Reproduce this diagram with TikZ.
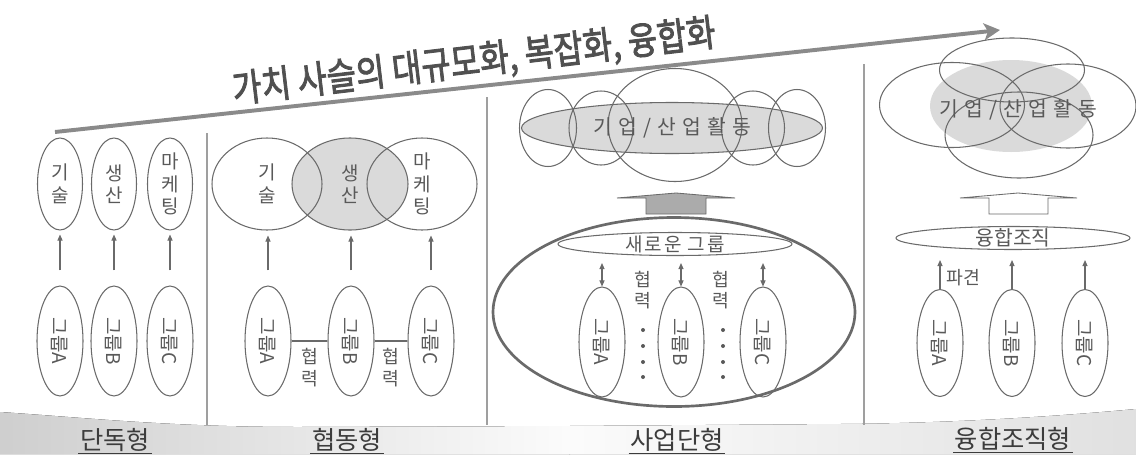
\documentclass[tikz,border=0pt]{standalone}
\usepackage{fontspec}
\usepackage{graphicx}
\setmainfont{Noto Sans CJK KR}[AutoFakeBold=2.5]
\usetikzlibrary{shapes.geometric,arrows.meta,positioning}

\newlength{\pxu}
\setlength{\pxu}{0.025cm}

\definecolor{linegray}{HTML}{6A6A6A}
\definecolor{textgray}{HTML}{595959}
\definecolor{labelgray}{HTML}{3C3C3C}
\definecolor{titlegray}{HTML}{505050}
\definecolor{fillgray}{HTML}{DADADA}
\definecolor{blockgray}{HTML}{ABABAB}
\definecolor{trendgray}{HTML}{8A8A8A}

% the four ovals of the fused activity
\newcommand{\fuseT}{(1012,70) ellipse [x radius=72.5, y radius=32]}
\newcommand{\fuseL}{(952,105) ellipse [x radius=72.5, y radius=42.5]}
\newcommand{\fuseR}{(1068,106) ellipse [x radius=68, y radius=42]}
\newcommand{\fuseB}{(1019,135) ellipse [x radius=74, y radius=43]}
% sideways group name
\newcommand{\grp}[1]{\rotatebox{-90}{\fontsize{13.5}{14}\selectfont 그룹#1}}

\begin{document}
\begin{tikzpicture}[
    x=0.025cm, y=-0.025cm,
    oval/.style={draw=linegray, line width=0.75pt, ellipse, inner sep=0pt, text=textgray, align=center, font=\fontsize{13.5}{16}\selectfont},
    field/.style={oval, minimum width=45\pxu, minimum height=92\pxu},
    wide/.style={oval, minimum width=110\pxu, minimum height=92\pxu},
    group/.style={oval, minimum width=46\pxu, minimum height=110\pxu},
    flat/.style={oval, minimum width=234\pxu, minimum height=23\pxu},
    ring/.style={draw=linegray, line width=0.75pt},
    up/.style={draw=linegray, line width=0.75pt, -{Triangle[length=4.3pt,width=3.6pt]}},
    both/.style={up, {Triangle[length=4.3pt,width=3.6pt]}-{Triangle[length=4.3pt,width=3.6pt]}},
    note/.style={text=textgray, inner sep=1pt, align=center, font=\fontsize{13}{15.5}\selectfont},
    spaced/.style={text=textgray, inner sep=0pt, font=\fontsize{14.5}{15}\selectfont\addfontfeature{LetterSpace=8}},
    kind/.style={text=labelgray, inner sep=1pt, font=\fontsize{18}{18}\selectfont},
    divider/.style={draw=gray!75, line width=0.75pt},
    block/.style={draw=linegray, line width=0.6pt}
  ]
  \useasboundingbox (0,0) rectangle (1136,454);

  % floor band
  \fill[left color=gray!38, right color=gray!3] (0,412) .. controls (90,418) and (170,427) .. (300,427) -- (570,426) -- (570,454) -- (0,454) -- cycle;
  \fill[left color=gray!3, right color=gray!24] (569,426) -- (840,424) .. controls (960,423) and (1060,416) .. (1136,409) -- (1136,454) -- (569,454) -- cycle;

  % panel dividers
  \draw[divider] (207,133) -- (207,425);
  \draw[divider] (487,97) -- (487,425);
  \draw[divider] (864,64) -- (864,425);

  % trend arrow and headline
  \coordinate (trendA) at (55,132);
  \coordinate (trendB) at (1000,30);
  \draw[trendgray, line width=2.8pt, -{Stealth[length=11.4pt,width=12pt,inset=2.8pt]}] (trendA) -- (trendB);
  \node[text=titlegray, font=\fontsize{27}{28}\selectfont\bfseries, rotate=6.8, inner sep=0pt] (headline) at (474,62) {\scalebox{0.84}[1]{가치 사슬의 대규모화, 복잡화, 융합화}};

  % ---- 단독형
  \node[field] (tech1) at (60,184) {기\\술};
  \node[field] (prod1) at (114,184) {생\\산};
  \node[field] (mkt1) at (170,184) {마\\케\\팅};
  \node[group] (grpA1) at (60,341) {\grp{A}};
  \node[group] (grpB1) at (114,341) {\grp{B}};
  \node[group] (grpC1) at (170,341) {\grp{C}};
  \draw[up, shorten <=15\pxu, shorten >=4\pxu] (grpA1.north) -- (tech1.south);
  \draw[up, shorten <=15\pxu, shorten >=4\pxu] (grpB1.north) -- (prod1.south);
  \draw[up, shorten <=15\pxu, shorten >=4\pxu] (grpC1.north) -- (mkt1.south);

  % ---- 협동형
  \node[wide, fill=fillgray, minimum width=116\pxu] (prod2) at (350,184) {생\\산};
  \node[wide] (tech2) at (267,184) {기\\술};
  \node[wide] (mkt2) at (422,184) {마\\케\\팅};
  \node[group] (grpA2) at (268,341) {\grp{A}};
  \node[group] (grpB2) at (351,341) {\grp{B}};
  \node[group] (grpC2) at (431,341) {\grp{C}};
  \draw[up, shorten <=15\pxu, shorten >=5\pxu] (grpA2.north) -- (grpA2.north |- tech2.south);
  \draw[up, shorten <=15\pxu, shorten >=5\pxu] (grpB2.north) -- (grpB2.north |- prod2.south);
  \draw[up, shorten <=15\pxu, shorten >=5\pxu] (grpC2.north) -- (grpC2.north |- mkt2.south);
  \draw[ring] (grpA2.east) -- node[note, below=5\pxu] (coop2a) {협\\력} (grpB2.west);
  \draw[ring] (grpB2.east) -- node[note, below=5\pxu] (coop2b) {협\\력} (grpC2.west);

  % ---- 사업단형
  \node[oval, fill=fillgray, minimum width=301\pxu, minimum height=51\pxu] (bizact) at (672,128) {};
  \draw[ring] (548,128) ellipse [x radius=28.5, y radius=38.5];
  \draw[ring] (601,128) ellipse [x radius=32, y radius=37];
  \draw[ring] (675,125) ellipse [x radius=67, y radius=56.5];
  \draw[ring] (753,128) ellipse [x radius=31.5, y radius=37];
  \draw[ring] (797,128) ellipse [x radius=28.5, y radius=38.5];
  \node[spaced] (bizlabel) at (bizact) {기 업 / 산 업 활 동};
  \draw[block, fill=blockgray] (646,214) -- (646,198) -- (617,198) -- (676,193) -- (735,198) -- (706,198) -- (706,214) -- cycle;
  \node[draw=linegray, line width=1.9pt, ellipse, minimum width=362\pxu, minimum height=189\pxu] (team) at (674,312) {};
  \node[flat] (newgrp) at (675,244) {};
  \node[spaced, font=\fontsize{13.5}{14}\selectfont\addfontfeature{LetterSpace=10}] at (newgrp) {새로운 그룹};
  \node[group] (grpA3) at (602,342) {\grp{A}};
  \node[group] (grpB3) at (681,342) {\grp{B}};
  \node[group] (grpC3) at (763,342) {\grp{C}};
  \draw[both, shorten >=7\pxu] (grpA3.north) -- (grpA3.north |- newgrp.south);
  \draw[both, shorten >=7\pxu] (grpB3.north) -- (grpB3.north |- newgrp.south);
  \draw[both, shorten >=7\pxu] (grpC3.north) -- (grpC3.north |- newgrp.south);
  \node[note] (coop3a) at (643,290) {협\\력};
  \node[note] (coop3b) at (721,290) {협\\력};
  \foreach \yy in {330,346,362,377} {
    \fill[textgray] (643,\yy) circle (2);
    \fill[textgray] (723,\yy) circle (2);
  }

  % ---- 융합조직형
  \fill[fillgray] (1011,106) ellipse [x radius=81, y radius=46];
  \draw[ring] \fuseT;
  \draw[ring] \fuseL;
  \draw[ring] \fuseR;
  \draw[ring] \fuseB;
  \node[spaced] (fuselabel) at (1018,110) {기 업 / 산 업 활 동};
  \draw[block, fill=white] (989,214) -- (989,198) -- (960,198) -- (1018,193) -- (1077,198) -- (1048,198) -- (1048,214) -- cycle;
  \node[flat] (fusion) at (1013,238) {};
  \node[spaced, font=\fontsize{14.5}{15}\selectfont] at (fusion) {융합조직};
  \node[group, minimum height=107\pxu] (grpA4) at (940,343) {\grp{A}};
  \node[group, minimum height=107\pxu] (grpB4) at (1012,343) {\grp{B}};
  \node[group, minimum height=107\pxu] (grpC4) at (1085,343) {\grp{C}};
  \draw[up, shorten >=10\pxu] (grpA4.north) -- node[note, pos=0.3, right=5\pxu] (dispatch) {파견} (grpA4.north |- fusion.south);
  \draw[up, shorten >=10\pxu] (grpB4.north) -- (grpB4.north |- fusion.south);
  \draw[up, shorten >=10\pxu] (grpC4.north) -- (grpC4.north |- fusion.south);

  % panel names
  \node[kind] (solo) at (115,440) {단독형};
  \node[kind] (joint) at (347,440) {협동형};
  \node[kind] (venture) at (677,440) {사업단형};
  \node[kind] (merged) at (1013,439) {융합조직형};
  \draw[labelgray, line width=0.9pt] (solo.south west) -- (solo.south east);
  \draw[labelgray, line width=0.9pt] (joint.south west) -- (joint.south east);
  \draw[labelgray, line width=0.9pt] (venture.south west) -- (venture.south east);
  \draw[labelgray, line width=0.9pt] (merged.south west) -- (merged.south east);
\end{tikzpicture}
\end{document}
